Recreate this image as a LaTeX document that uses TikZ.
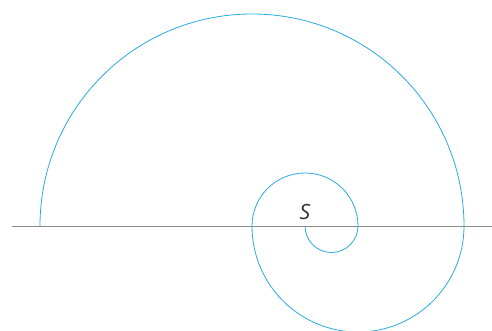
\documentclass[tikz,border=0pt]{standalone}
\usepackage{fontspec}
\setsansfont{Open Sans}
\usepackage{tikz}
\usetikzlibrary{positioning}
\definecolor{spiralblue}{HTML}{29ABE2}
\definecolor{axisgray}{HTML}{8C8C8C}
\tikzset{
  axisline/.style={draw=axisgray, line width=0.9pt},
  spiral/.style={draw=spiralblue, line width=0.8pt},
  pole/.style={font=\sffamily\itshape\fontsize{21}{21}\selectfont, text=black!80,
               inner sep=0pt},
}

\begin{document}
\begin{tikzpicture}[x=1pt, y=1pt]
\useasboundingbox (0,0) rectangle (492,331);

\coordinate (S) at (305,105);
\coordinate (axisL) at (12,105);
\coordinate (axisR) at (492,105);
\draw[axisline] (axisL) -- (axisR);

% semicircles, radius doubling each half turn
\draw[spiral] (S) arc (180:360:26.5) arc (0:180:53) arc (180:360:106)
  arc (0:180:212);

\node[pole, above=6pt of S] (Slab) {S};

\end{tikzpicture}
\end{document}
